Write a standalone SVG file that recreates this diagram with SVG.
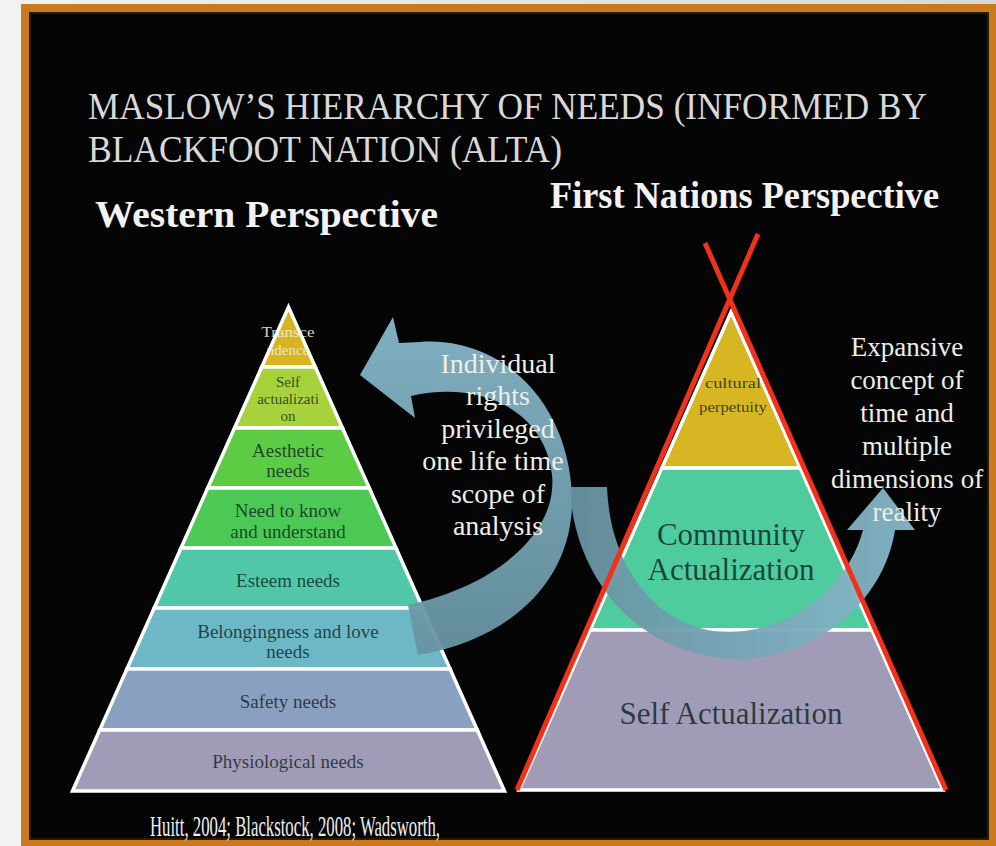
<svg xmlns="http://www.w3.org/2000/svg" width="996" height="846" viewBox="0 0 996 846">
<style>
text{font-family:'Liberation Serif','DejaVu Serif','Noto Serif',serif}
.lbl{text-anchor:middle;fill:#0c1c1c;fill-opacity:0.78}
.wt{text-anchor:middle;fill:#eeeee6}
.layer{stroke:#ffffff;stroke-width:3.5;stroke-linejoin:miter}
.red{stroke:#f0321a;stroke-width:5;stroke-linecap:butt;fill:none}
</style>
<defs>
<linearGradient id="bgL" x1="0" y1="0" x2="1" y2="0">
<stop offset="0" stop-color="#f2f2f2"/><stop offset="1" stop-color="#d8d8d8"/>
</linearGradient>
<linearGradient id="ar1" x1="0" y1="0" x2="0" y2="1">
<stop offset="0" stop-color="#86b8ca"/><stop offset="1" stop-color="#6793a2"/>
</linearGradient>
<linearGradient id="ar2" x1="0" y1="0" x2="1" y2="0">
<stop offset="0" stop-color="#6793a2"/><stop offset="1" stop-color="#86b8ca"/>
</linearGradient>
</defs>
<rect x="0" y="0" width="996" height="846" fill="url(#bgL)"/>
<g id="frame">
<rect x="25" y="8" width="968" height="836" fill="#050505" stroke="#c97a1e" stroke-width="8"/>
<rect x="30" y="13" width="958" height="826" fill="none" stroke="#3a2208" stroke-width="1.5"/>
</g>
<g id="title" font-family="Liberation Serif, serif">
<text x="88" y="119" font-size="37" fill="#d9d9d9" textLength="839" lengthAdjust="spacingAndGlyphs">MASLOW’S HIERARCHY OF NEEDS (INFORMED BY</text>
<text x="88" y="162" font-size="37" fill="#d9d9d9" textLength="474" lengthAdjust="spacingAndGlyphs">BLACKFOOT NATION (ALTA)</text>
</g>
<g id="heading-western"><text x="95" y="227" font-size="37" font-weight="bold" fill="#f2f2f2" textLength="343" lengthAdjust="spacingAndGlyphs">Western Perspective</text></g>
<g id="heading-first-nations"><text x="550" y="208" font-size="37" font-weight="bold" fill="#f2f2f2" textLength="389" lengthAdjust="spacingAndGlyphs">First Nations Perspective</text></g>

<g id="western-pyramid">
<g id="transcendence"><polygon class="layer" fill="#d8b41e" points="288.5,307 315.3,367 261.7,367"/>
<text class="wt" x="288" y="337" font-size="15" fill-opacity="0.9" textLength="53" lengthAdjust="spacingAndGlyphs">Transce</text>
<text class="wt" x="288" y="355" font-size="15" fill-opacity="0.9">ndence</text></g>
<g id="self-actualization"><polygon class="layer" fill="#a8d23c" points="261.7,367 315.3,367 342.5,428 234.5,428"/>
<text class="lbl" x="288" y="387" font-size="15">Self</text>
<text class="lbl" x="288" y="404" font-size="15">actualizati</text>
<text class="lbl" x="288" y="421" font-size="15">on</text></g>
<g id="aesthetic"><polygon class="layer" fill="#5ccc44" points="234.5,428 342.5,428 369.3,488 207.7,488"/>
<text class="lbl" x="288" y="457" font-size="19">Aesthetic</text>
<text class="lbl" x="288" y="477" font-size="19">needs</text></g>
<g id="know"><polygon class="layer" fill="#4cc854" points="207.7,488 369.3,488 396,548 181,548"/>
<text class="lbl" x="288" y="517" font-size="19">Need to know</text>
<text class="lbl" x="288" y="538" font-size="19">and understand</text></g>
<g id="esteem"><polygon class="layer" fill="#50c8a8" points="181,548 396,548 422.8,608 154.2,608"/>
<text class="lbl" x="288" y="587" font-size="19">Esteem needs</text></g>
<g id="belonging"><polygon class="layer" fill="#6cb8c6" points="154.2,608 422.8,608 450.1,669 126.9,669"/>
<text class="lbl" x="288" y="638" font-size="19">Belongingness and love</text>
<text class="lbl" x="288" y="658" font-size="19">needs</text></g>
<g id="safety"><polygon class="layer" fill="#8aa0c0" points="126.9,669 450.1,669 477.3,730 99.7,730"/>
<text class="lbl" x="288" y="708" font-size="19">Safety needs</text></g>
<g id="physiological"><polygon class="layer" fill="#a09cb8" points="99.7,730 477.3,730 504.5,791 72.5,791"/>
<text class="lbl" x="288" y="768" font-size="19">Physiological needs</text></g>
</g>

<g id="first-nations-pyramid">
<g id="cultural-perpetuity"><polygon class="layer" fill="#d6b622" points="731,312 800.2,468 661.8,468"/>
<text class="lbl" x="733" y="388" font-size="15" textLength="56" lengthAdjust="spacingAndGlyphs">cultural</text>
<text class="lbl" x="733" y="412" font-size="15" textLength="68" lengthAdjust="spacingAndGlyphs">perpetuity</text></g>
<g id="community-actualization"><polygon class="layer" fill="#4ecc9e" points="661.8,468 800.2,468 872,630 590,630"/>
<text class="lbl" x="731" y="545" font-size="31">Community</text>
<text class="lbl" x="731" y="580" font-size="31">Actualization</text></g>
<g id="self-actualization-fn"><polygon class="layer" fill="#a09cb8" points="590,630 872,630 943,790 519,790"/>
<text class="lbl" x="731" y="724" font-size="31">Self Actualization</text></g>
</g>

<g id="connectors">
<path id="arrow-individual" fill="url(#ar1)" fill-opacity="0.95" d="M418,655 C510,640 575,580 572,495 C568,400 500,336 420,342 L399,343 L393,317 L360,375 L415,418 L411,396 C480,380 545,410 552,475 C558,530 500,585 408,605 Z"/>
<path id="arrow-expansive" fill="url(#ar2)" fill-opacity="0.95" d="M570,487 C572,560 620,645 720,658 C800,667 882,612 895,530 L915,530 L883,488 L847,530 L863,530 C850,580 800,630 730,632 C660,632 610,570 607,487 Z"/>
</g>

<g id="red-cross">
<line class="red" x1="758" y1="234" x2="517" y2="790"/>
<line class="red" x1="705" y1="243" x2="946" y2="790"/>
</g>

<g id="individual-text">
<text class="wt" x="498" y="373" font-size="28">Individual</text>
<text class="wt" x="498" y="405" font-size="28">rights</text>
<text class="wt" x="498" y="438" font-size="28">privileged</text>
<text class="wt" x="493" y="470" font-size="28">one life time</text>
<text class="wt" x="498" y="503" font-size="28">scope of</text>
<text class="wt" x="498" y="535" font-size="28">analysis</text>
</g>
<g id="expansive-text">
<text class="wt" x="907" y="356" font-size="27">Expansive</text>
<text class="wt" x="907" y="389" font-size="27">concept of</text>
<text class="wt" x="907" y="422" font-size="27">time and</text>
<text class="wt" x="907" y="455" font-size="27">multiple</text>
<text class="wt" x="907" y="488" font-size="27">dimensions of</text>
<text class="wt" x="907" y="521" font-size="27">reality</text>
</g>
<g id="citation"><text x="150" y="836" font-size="29" fill="#f0f0f0" textLength="290" lengthAdjust="spacingAndGlyphs">Huitt, 2004; Blackstock, 2008; Wadsworth,</text></g>
</svg>
